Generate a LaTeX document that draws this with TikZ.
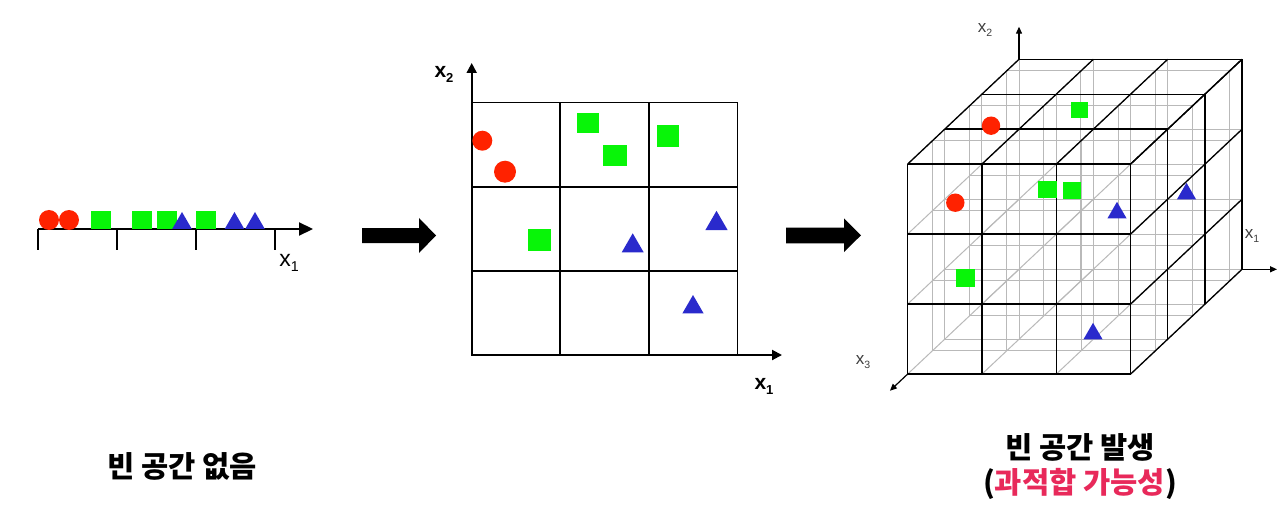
\documentclass[tikz,border=0pt]{standalone}
\usepackage{fontspec}
\usetikzlibrary{arrows.meta,shapes.geometric}
\newfontfamily\arialf{Liberation Sans}
\newfontfamily\kr{Noto Sans CJK KR}
\definecolor{redc}{RGB}{255,34,0}
\definecolor{greenc}{RGB}{8,245,8}
\definecolor{bluec}{RGB}{42,42,204}
\definecolor{pinkc}{RGB}{232,41,90}
\definecolor{latgray}{RGB}{185,185,185}
\newcommand\lowsub[1]{\raisebox{-0.45ex}{\fontsize{0.62em}{0.7em}\selectfont #1}}
\tikzset{
  redpt/.style={circle, fill=redc, inner sep=0pt, outer sep=0pt},
  greenpt/.style={rectangle, fill=greenc, inner sep=0pt, outer sep=0pt},
  bluept/.style={regular polygon, regular polygon sides=3, fill=bluec, inner sep=0pt, outer sep=0pt},
  axisone/.style={line width=1.1pt, -{Triangle[length=7pt,width=6.5pt]}},
  tickmark/.style={line width=1.1pt},
  gridtwo/.style={line width=0.8pt},
  axistwo/.style={line width=1pt, -{Triangle[length=5pt,width=5pt]}},
  cubeln/.style={line width=0.65pt, black},
  grayln/.style={line width=0.5pt, latgray},
  axisthree/.style={line width=0.6pt, -{Triangle[length=3.5pt,width=3pt]}},
  blockarrow/.style={fill=black},
  krtext/.style={font=\kr\bfseries\fontsize{14.8}{17}\selectfont, inner sep=0pt},
  labone/.style={font=\arialf\fontsize{11.5}{13}\selectfont, inner sep=0pt},
  labtwo/.style={font=\arialf\bfseries\fontsize{10.5}{12}\selectfont, inner sep=0pt},
  labthree/.style={font=\arialf\fontsize{8.5}{10}\selectfont, text=black!75, inner sep=0pt},
}
\begin{document}
\begin{tikzpicture}[x=0.5pt,y=-0.5pt]
\useasboundingbox (0,0) rectangle (1283,513);
\fill[white] (0,0) rectangle (1283,513);

% ---------- 1D ----------
\coordinate (a0) at (38,229);
\coordinate (a1) at (313,229);
\draw[axisone] (a0) -- (a1);
\foreach \x in {38,117,196,275} \draw[tickmark] (\x,228.5) -- (\x,250);
\node[labone] (l1) at (289,263) {x\lowsub{1}};
\node[redpt, minimum size=10pt] (p1r1) at (49,220) {};
\node[redpt, minimum size=10pt] (p1r2) at (69,220) {};
\node[greenpt, minimum width=10pt, minimum height=9.3pt] (p1g1) at (101,220) {};
\node[greenpt, minimum width=10pt, minimum height=9.3pt] (p1g2) at (142,220) {};
\node[greenpt, minimum width=10pt, minimum height=9.3pt] (p1g3) at (167,220) {};
\node[greenpt, minimum width=10pt, minimum height=9.3pt] (p1g4) at (206,220) {};
\node[bluept, minimum size=11.3pt] (p1b1) at (182,223.3) {};
\node[bluept, minimum size=11.3pt] (p1b2) at (234.5,223.3) {};
\node[bluept, minimum size=11.3pt] (p1b3) at (255,223.3) {};

% ---------- block arrows ----------
\fill[blockarrow] (362,228) -- (419,228) -- (419,218) -- (436,235.5) -- (419,253) -- (419,243) -- (362,243) -- cycle;
\fill[blockarrow] (786,227.5) -- (844,227.5) -- (844,218.3) -- (861,235.3) -- (844,252) -- (844,243.3) -- (786,243.3) -- cycle;

% ---------- 2D ----------
\draw[gridtwo] (471.7,102.7) rectangle (737.3,355);
\foreach \x in {560,648.7} \draw[gridtwo] (\x,102.7) -- (\x,355);
\foreach \y in {187.3,271} \draw[gridtwo] (471.7,\y) -- (737.3,\y);
\coordinate (o2) at (471.7,355);
\coordinate (t2y) at (471.7,63);
\coordinate (t2x) at (782,355);
\draw[axistwo] (o2) -- (t2y);
\draw[axistwo] (o2) -- (t2x);
\node[labtwo] (l2y) at (444,74) {x\lowsub{2}};
\node[labtwo] (l2x) at (764,386) {x\lowsub{1}};
\node[redpt, minimum size=10pt] (p2r1) at (482.3,140.7) {};
\node[redpt, minimum size=11pt] (p2r2) at (505,171.7) {};
\node[greenpt, minimum width=11pt, minimum height=10.3pt] (p2g1) at (588.3,123) {};
\node[greenpt, minimum width=12pt, minimum height=10.5pt] (p2g2) at (615,155.5) {};
\node[greenpt, minimum width=11.2pt, minimum height=10.7pt] (p2g3) at (668,136) {};
\node[greenpt, minimum width=11.3pt, minimum height=11.3pt] (p2g4) at (539.7,240) {};
\node[bluept, minimum size=12.7pt] (p2b1) at (632.7,246) {};
\node[bluept, minimum size=12.8pt] (p2b2) at (716.5,223.6) {};
\node[bluept, minimum size=12.2pt] (p2b3) at (693,307.2) {};

% ---------- 3D ----------
\begin{scope}[shift={(907.7,164)}, x={(37.165pt,0pt)}, y={(0pt,-35pt)}, z={(18.55pt,17.45pt)}]
  \foreach \k in {0.667,1,1.667,2,2.667,3}{
    \foreach \i in {0,1,2,3} \draw[grayln] (\i,0,\k) -- (\i,3,\k);
    \foreach \j in {0,1,2,3} \draw[grayln] (0,\j,\k) -- (3,\j,\k);
  }
  \foreach \i in {0,1,2,3}{\foreach \j in {0,1,2,3} \draw[grayln] (\i,\j,0) -- (\i,\j,3);}
  \foreach \i in {0,1,2,3} \draw[cubeln] (\i,0,0) -- (\i,3,0);
  \foreach \j in {0,1,2,3} \draw[cubeln] (0,\j,0) -- (3,\j,0);
  \foreach \k in {0,1,2,3} \draw[cubeln] (0,0,\k) -- (3,0,\k);
  \foreach \i in {0,1,2,3} \draw[cubeln] (\i,0,0) -- (\i,0,3);
  \foreach \k in {0,1,2,3} \draw[cubeln] (3,0,\k) -- (3,3,\k);
  \foreach \j in {0,1,2,3} \draw[cubeln] (3,\j,0) -- (3,\j,3);
  \coordinate (c2o) at (0,0,3);
  \coordinate (c2t) at (0,-0.466,3);
  \coordinate (c1o) at (3,3,3);
  \coordinate (c1t) at (3.471,3,3);
  \coordinate (c3o) at (0,3,0);
  \coordinate (c3t) at (0,3,-0.48);
\end{scope}
\draw[axisthree] (c2o) -- (c2t);
\draw[axisthree] (c1o) -- (c1t);
\draw[axisthree] (c3o) -- (c3t);
\node[labthree] (l3b) at (985,30) {x\lowsub{2}};
\node[labthree] (l3a) at (1252,236) {x\lowsub{1}};
\node[labthree] (l3c) at (863,362) {x\lowsub{3}};
\node[redpt, minimum size=9.2pt] (p3r1) at (991,125.7) {};
\node[redpt, minimum size=9.2pt] (p3r2) at (955.3,202.7) {};
\node[greenpt, minimum width=8.7pt, minimum height=8.3pt] (p3g1) at (1079.3,110) {};
\node[greenpt, minimum width=9.2pt, minimum height=8.8pt] (p3g2) at (1047.5,189.5) {};
\node[greenpt, minimum width=9pt, minimum height=8.8pt] (p3g3) at (1071.7,190.5) {};
\node[greenpt, minimum width=9.5pt, minimum height=9pt] (p3g4) at (965.5,278.3) {};
\node[bluept, minimum size=11pt] (p3b1) at (1117,212.8) {};
\node[bluept, minimum size=11pt] (p3b2) at (1186.5,193.8) {};
\node[bluept, minimum size=11pt] (p3b3) at (1093,333.8) {};

% ---------- captions ----------
\node[krtext] (cap1) at (182,466) {빈 공간 없음};
\node[krtext] (cap2) at (1080,447) {빈 공간 발생};
\node[krtext] (cap3) at (1080,484) {(\textcolor{pinkc}{과적합 가능성})};
\end{tikzpicture}
\end{document}
